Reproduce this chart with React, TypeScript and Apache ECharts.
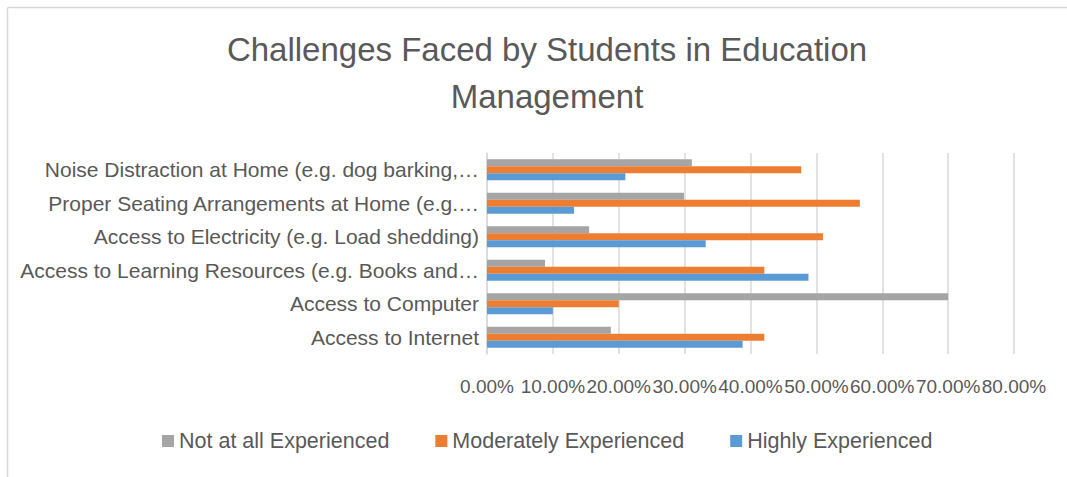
import React, { useEffect, useRef } from "react";
import * as echarts from "echarts";

const categories = [
  "Access to Internet",
  "Access to Computer",
  "Access to Learning Resources (e.g. Books and…",
  "Access to Electricity (e.g. Load shedding)",
  "Proper Seating Arrangements at Home (e.g.…",
  "Noise Distraction at Home (e.g. dog barking,…",
];
const notAtAll = [18.8, 70.0, 8.8, 15.5, 29.9, 31.1];
const moderately = [42.1, 20.0, 42.1, 51.0, 56.6, 47.7];
const highly = [38.8, 10.0, 48.8, 33.2, 13.2, 21.0];
const seriesNames = ["Not at all Experienced", "Moderately Experienced", "Highly Experienced"];
const colors = ["#A5A5A5", "#ED7D31", "#5B9BD5"];

const FONT = "'Liberation Sans', Arial, sans-serif";
const TXT = "#595959";

export default function App() {
  const ref = useRef<HTMLDivElement>(null);
  useEffect(() => {
    if (!ref.current) return;
    const chart = echarts.init(ref.current, undefined, { renderer: "svg" });
    const mk = (i: number, data: number[]) => ({
      name: seriesNames[i],
      type: "bar",
      data,
      barWidth: 7,
      barGap: "0%",
      itemStyle: { color: colors[i] },
    });
    chart.setOption({
      animation: false,
      textStyle: { fontFamily: FONT },
      title: {
        text: "Challenges Faced by Students in Education\nManagement",
        left: 542,
        top: 21,
        textAlign: "center",
        textStyle: { fontSize: 33, fontWeight: "normal", color: TXT, lineHeight: 47, fontFamily: FONT },
      },
      legend: {
        data: seriesNames,
        left: 157,
        top: 425,
        itemWidth: 12,
        itemHeight: 12,
        itemGap: 46,
        icon: "rect",
        textStyle: { fontSize: 21.5, color: TXT, fontFamily: FONT },
      },
      grid: { left: 487, right: 53, top: 153, bottom: 123, containLabel: false },
      xAxis: {
        type: "value",
        min: 0,
        max: 80,
        interval: 10,
        axisLine: { show: false },
        axisTick: { show: false },
        splitLine: { lineStyle: { color: "#D9D9D9", width: 1.5 } },
        axisLabel: {
          formatter: (v: number) => v.toFixed(2) + "%",
          fontSize: 19,
          color: TXT,
          margin: 23,
          showMinLabel: true,
          showMaxLabel: true,
          hideOverlap: false,
          fontFamily: FONT,
        },
      },
      yAxis: {
        type: "category",
        data: categories,
        axisTick: { show: false },
        axisLine: { lineStyle: { color: "#D9D9D9", width: 1.5 } },
        axisLabel: { fontSize: 21, color: TXT, margin: 8, fontFamily: FONT },
      },
      graphic: [
        { type: "line", shape: { x1: 7.5, y1: 7.5, x2: 1067, y2: 7.5 }, style: { stroke: "#D9D9D9", lineWidth: 1.5 } },
        { type: "line", shape: { x1: 7.5, y1: 7.5, x2: 7.5, y2: 477 }, style: { stroke: "#D9D9D9", lineWidth: 1.5 } },
      ],
      series: [mk(0, notAtAll), mk(1, moderately), mk(2, highly)],
    });
    return () => chart.dispose();
  }, []);
  return <div ref={ref} style={{ position: "fixed", left: 0, top: 0, width: 1067, height: 477, background: "#fff" }} />;
}
